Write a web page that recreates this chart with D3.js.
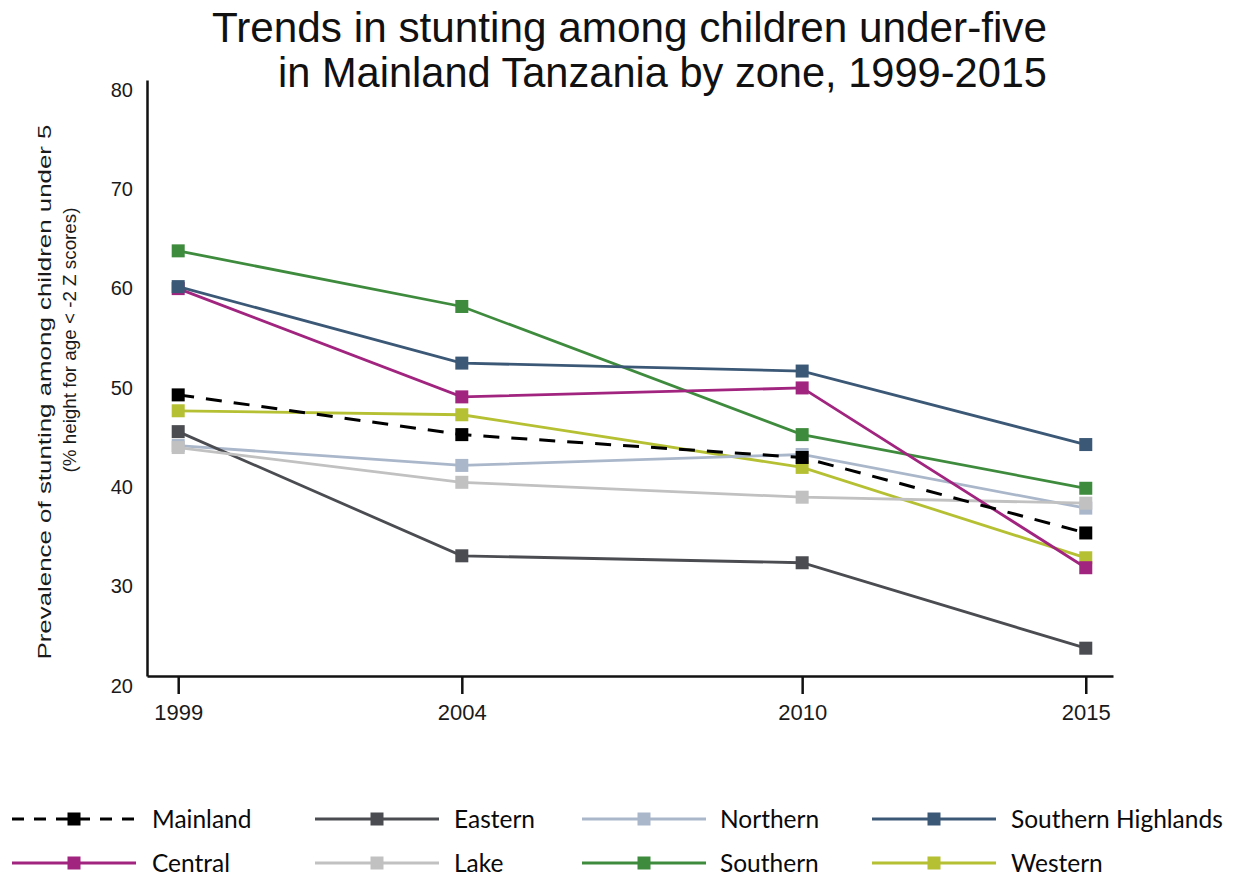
<!DOCTYPE html>
<html>
<head>
<meta charset="utf-8">
<script src="https://cdn.jsdelivr.net/npm/d3@7"></script>
<style>
  body { margin: 0; background: #fff; }
  svg { display: block; }
</style>
</head>
<body>
<svg id="chart"></svg>
<script>
// Survey years and zones
const years = [1999, 2004, 2010, 2015];
const zones = ["Mainland", "Eastern", "Northern", "Southern Highlands",
               "Central", "Lake", "Southern", "Western"];

// Stunting prevalence (%)
const mainland  = [48.3, 44.3, 42.0, 34.4];
const eastern   = [44.6, 32.1, 31.4, 22.8];
const northern  = [43.2, 41.2, 42.3, 36.9];
const southernH = [59.2, 51.5, 50.7, 43.3];
const central   = [59.0, 48.1, 49.0, 30.9];
const lake      = [43.0, 39.5, 38.0, 37.4];
const southern  = [62.8, 57.2, 44.3, 38.9];
const western   = [46.7, 46.3, 41.0, 31.9];

const yTicks = [20, 30, 40, 50, 60, 70, 80];

const values = {
  "Mainland": mainland, "Eastern": eastern, "Northern": northern,
  "Southern Highlands": southernH, "Central": central, "Lake": lake,
  "Southern": southern, "Western": western
};

const colors = {
  "Mainland": "#000000", "Eastern": "#4a4c51", "Northern": "#aab7cb",
  "Southern Highlands": "#3c5877", "Central": "#a1247f", "Lake": "#c1c1c1",
  "Southern": "#3f8b3e", "Western": "#b6c033"
};

// drawing order (later on top)
const drawOrder = ["Western", "Northern", "Eastern", "Lake", "Southern",
                   "Central", "Southern Highlands", "Mainland"];

const width = 1237, height = 877;
const svg = d3.select("#chart").attr("width", width).attr("height", height);

// Scales
const x = d3.scaleLinear().domain([1998.45, 2015.48]).range([147, 1113]);
const y = d3.scaleLinear().domain([20, 80]).range([676, 80]);

// Title
const title = svg.append("g")
  .attr("font-family", "'Liberation Sans Narrow', 'Arial Narrow', sans-serif")
  .attr("font-size", 42)
  .attr("fill", "#111")
  .attr("text-anchor", "end");
title.append("text").attr("x", 1047).attr("y", 42)
  .attr("textLength", 835).attr("lengthAdjust", "spacingAndGlyphs")
  .text("Trends in stunting among children under-five");
title.append("text").attr("x", 1047).attr("y", 87)
  .attr("textLength", 769).attr("lengthAdjust", "spacingAndGlyphs")
  .text("in Mainland Tanzania by zone, 1999-2015");

// Y axis
const yAxis = svg.append("g")
  .attr("transform", "translate(147,0)")
  .call(d3.axisLeft(y).tickValues(yTicks).tickSize(0).tickPadding(14));
yAxis.select(".domain").attr("stroke", "#111").attr("stroke-width", 2.5);
yAxis.selectAll("text")
  .attr("font-family", "'Liberation Sans', Arial, sans-serif")
  .attr("font-size", 20)
  .attr("fill", "#1a1a1a")
  .attr("dy", "0.8em");

// X axis
const xAxis = svg.append("g")
  .attr("transform", "translate(0,676)")
  .call(d3.axisBottom(x).tickValues(years).tickSize(18).tickSizeOuter(0)
    .tickPadding(10).tickFormat(d3.format("d")));
xAxis.select(".domain").attr("stroke", "#111").attr("stroke-width", 2.5);
xAxis.selectAll(".tick line").attr("stroke", "#111").attr("stroke-width", 2.5);
xAxis.selectAll("text")
  .attr("font-family", "'Liberation Sans', Arial, sans-serif")
  .attr("font-size", 22)
  .attr("fill", "#1a1a1a");

// Y axis title
const yTitle = svg.append("g")
  .attr("font-family", "'Liberation Sans', Arial, sans-serif")
  .attr("font-size", 19)
  .attr("fill", "#1a1a1a")
  .attr("text-anchor", "middle");
yTitle.append("text")
  .attr("transform", "translate(51,392) rotate(-90)")
  .attr("textLength", 535).attr("lengthAdjust", "spacingAndGlyphs")
  .text("Prevalence of stunting among children under 5");
yTitle.append("text")
  .attr("transform", "translate(76,340) rotate(-90)")
  .attr("textLength", 265).attr("lengthAdjust", "spacingAndGlyphs")
  .text("(% height for age < -2 Z scores)");

// Lines and markers
const line = d3.line().x((d, i) => x(years[i])).y(d => y(d));
const markerSize = 13;

drawOrder.forEach(z => {
  const g = svg.append("g");
  g.append("path")
    .datum(values[z])
    .attr("d", line)
    .attr("fill", "none")
    .attr("stroke", colors[z])
    .attr("stroke-width", z === "Mainland" ? 3 : 2.8)
    .attr("stroke-dasharray", z === "Mainland" ? "16,12" : null);
  g.selectAll("rect")
    .data(values[z])
    .enter()
    .append("rect")
    .attr("x", (d, i) => x(years[i]) - markerSize / 2)
    .attr("y", d => y(d) - markerSize / 2)
    .attr("width", markerSize)
    .attr("height", markerSize)
    .attr("fill", colors[z]);
});

// Legend
const legCols = [
  { lx: 12, tx: 152 }, { lx: 315, tx: 454 },
  { lx: 582, tx: 720 }, { lx: 872, tx: 1011 }
];
const legRows = [819, 863];
const legLen = 124;

const legend = svg.append("g")
  .attr("font-family", "Lato, 'Liberation Sans', sans-serif")
  .attr("font-size", 24.5)
  .attr("fill", "#0a0a0a");

zones.forEach((z, i) => {
  const c = legCols[i % 4];
  const ry = legRows[Math.floor(i / 4)];
  const g = legend.append("g");
  g.append("line")
    .attr("x1", c.lx).attr("x2", c.lx + legLen)
    .attr("y1", ry).attr("y2", ry)
    .attr("stroke", colors[z])
    .attr("stroke-width", z === "Mainland" ? 3 : 2.8)
    .attr("stroke-dasharray", z === "Mainland" ? "12,10" : null);
  g.append("rect")
    .attr("x", c.lx + legLen / 2 - markerSize / 2)
    .attr("y", ry - markerSize / 2)
    .attr("width", markerSize).attr("height", markerSize)
    .attr("fill", colors[z]);
  g.append("text")
    .attr("x", c.tx).attr("y", ry).attr("dy", "0.36em")
    .text(z);
});
</script>
</body>
</html>
